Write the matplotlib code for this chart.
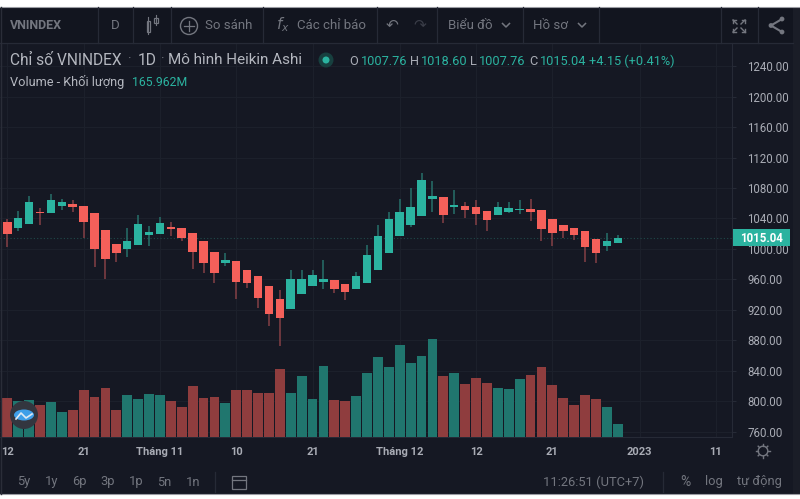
import numpy as np
import matplotlib
matplotlib.use("Agg")
import matplotlib.pyplot as plt
from matplotlib.patches import Rectangle, Circle, Ellipse

plt.rcParams['font.family'] = ['Roboto', 'DejaVu Sans']

# heikin ashi candles
opens = [1035,1027,1033,1049,1047,1056,1059,1057,1047,1025,1006,1000,1005,1019,1020,1029,1028,1021,1010,996,
         981,984,972,964,951,934,921,941,951,957,959,954,948,955,973,995,1017,1032,1043,1066,
         1068,1055.5,1057,1055,1050,1044,1049,1051,1052.5,1050.5,1039,1031,1028,1024,1013,1004,1007.76]
highs = [1039,1050,1069,1054,1072,1066,1064,1057,1047,1025,1006,1028,1044,1030,1042,1035,1028,1021,1010,996,
         995,984,972,964,951,946,972,972,973,985,959,954,970,1005,1031,1048,1065,1080,1100,1089,
         1068,1077,1061,1064,1050,1062,1062,1064,1066,1050.5,1039,1032,1028,1024,1013,1021,1018.60]
lows = [1002,1024,1033,1032,1047,1051,1048,1014,977,961,983,990,1005,1004,1020,1017,1010,974,969,955,
        978,934,949,922,899,873,921,941,951,947,942,933,948,955,973,995,1017,1029,1043,1048,
        1034,1045.5,1040,1031,1024,1044,1047,1045.5,1037,1010,1004,1014,1012,983,981,998,1007.76]
closes = [1020,1040,1062,1047,1064,1061,1055,1036,1000,987,995,1010,1033,1022,1034,1026,1015,996,981,969,
          986,957,955,936,915,909,961,961,965.5,960,947,943,964,992.5,1017,1039,1049,1055,1091,1069,
          1045,1058,1051,1046,1038,1055,1054,1053,1048,1026,1021,1024,1019,1002,995,1011,1015.04]
volumes = [490,456,465,407,436,320,336,589,506,618,336,527,481,535,531,452,378,643,494,506,
           432,585,589,552,548,855,548,759,481,892,461,456,519,797,1004,872,1150,930,1013,1228,
           764,797,664,743,672,610,606,722,776,872,647,486,398,523,473,374,166]

price_ticks = [1240,1200,1160,1120,1080,1040,1000,960,920,880,840,800,760]
date_pos = [0,7,14,21,28,36,43,50,58,65]
date_labels = ['12','21','Tháng 11','10','21','Tháng 12','12','21','2023','11']
last_price = 1015.04

BG = '#151823'
BG2 = '#12151f'
LINE = '#262a36'
TXT = '#a9acb5'
DIM = '#73767f'
GREEN = '#2bb3a0'
RED = '#f5605a'
GREEN_W = '#26706a'
RED_W = '#854046'
GREEN_V = '#20766e'
RED_V = '#8f3d3e'
W, H = 800, 499

fig = plt.figure(figsize=(8, 4.99), dpi=100, facecolor='white')

def px_axes(x0, y0, x1, y1):
  return fig.add_axes([x0/W, 1-y1/H, (x1-x0)/W, (y1-y0)/H])

# whole screenshot panel, in pixels
ui = px_axes(0, 0, W, H)
ui.set_xlim(0, W)
ui.set_ylim(H, 0)
ui.axis('off')
ui.add_patch(Rectangle((0, 7), W, 487, color='#1a1d27', lw=0))
ui.add_patch(Rectangle((0, 7), 793, 487, color=BG, lw=0))
ui.add_patch(Rectangle((0, 7), 793, 36, color=BG2, lw=0))
ui.plot([0, W], [6.5, 6.5], color='#9a9ca3', lw=0.8)
ui.plot([0, W], [494.3, 494.3], color='#9a9ca3', lw=0.8)

# price pane, twin made first because twinx resets the tick side
ax = px_axes(0, 43, 732, 437.3)
vol = ax.twinx()
ax.set_facecolor(BG)
ax.set_xlim(-0.67, 66.48)
ax.set_ylim(753, 1270.2)
for s in ax.spines.values():
  s.set_visible(False)
ax.spines['right'].set_visible(True)
ax.spines['right'].set_color(LINE)
ax.spines['bottom'].set_visible(True)
ax.spines['bottom'].set_color(LINE)
ax.set_yticks(price_ticks)
ax.set_yticklabels(['%.2f' % p for p in price_ticks])
ax.yaxis.tick_right()
ax.set_xticks(date_pos)
ax.set_xticklabels(date_labels)
ax.tick_params(axis='y', length=3, color=LINE, labelcolor=TXT, labelsize=8.3, pad=8)
ax.tick_params(axis='x', length=0, labelcolor=TXT, labelsize=8, pad=7)
for t in ax.get_xticklabels():
  t.set_fontweight('bold')
ax.grid(True, color='#1c202b', lw=0.8)
ax.set_axisbelow(True)

# volume sits on its own scale at the bottom of the pane
vol.set_ylim(0, 4909)
vol.axis('off')
x = np.arange(len(opens))
up = np.array(closes) >= np.array(opens)
vol.bar(x, volumes, width=0.9, color=[GREEN_V if u else RED_V for u in up], lw=0)

for i in x:
  ax.plot([i, i], [lows[i], highs[i]], color=GREEN_W if up[i] else RED_W, lw=1.1, zorder=3, solid_capstyle='butt')
ax.bar(x, np.abs(np.array(closes)-np.array(opens)), bottom=np.minimum(opens, closes), width=0.78,
       color=[GREEN if u else RED for u in up], lw=0, zorder=4)
ax.axhline(last_price, color='#1f4a4a', lw=0.8, ls=(0, (1, 2)), zorder=2)
ax.set_zorder(vol.get_zorder()+1)
ax.patch.set_visible(False)
vol.set_zorder(1)

# overlay for the chrome
top = px_axes(0, 0, W, H)
top.set_xlim(0, W)
top.set_ylim(H, 0)
top.axis('off')
top.set_zorder(10)

def label(x, y, s, c=TXT, size=9, **kw):
  top.text(x, y, s, color=c, fontsize=size, va='center', **kw)

for sx in [98, 133, 171, 263, 377, 437, 523, 599, 721, 758]:
  top.plot([sx, sx], [7, 43], color=LINE, lw=0.9)
top.plot([0, 793], [43, 43], color=LINE, lw=0.9)
top.plot([1, 1], [7, 494], color='#2a2d38', lw=1)

label(10, 25, 'VNINDEX', DIM, 9, fontweight='bold')
label(111, 25, 'D', DIM, 9.5)
label(205, 25, 'So sánh', DIM, 9.5)
label(297, 25, 'Các chỉ báo', DIM, 9.5)
label(276, 25, '$f_x$', DIM, 11)
label(448, 25, 'Biểu đồ', DIM, 9.5)
label(533, 25, 'Hồ sơ', DIM, 9.5)
label(386, 25, '↶', DIM, 11, family=['DejaVu Sans'])
label(413, 25, '↷', '#3a3d48', 11, family=['DejaVu Sans'])

# candle icon, plus circle, chevrons, expand, share
top.add_patch(Rectangle((146.5, 21), 3.5, 11, fill=False, ec=DIM, lw=0.9))
top.plot([148.2, 148.2], [17, 34], color=DIM, lw=0.8)
top.add_patch(Rectangle((154, 18), 3.5, 5, fill=False, ec=DIM, lw=0.9))
top.plot([155.7, 155.7], [15, 25], color=DIM, lw=0.8)
top.add_patch(Circle((189, 26), 8.5, fill=False, ec=DIM, lw=1))
top.plot([184, 194], [26, 26], color=DIM, lw=0.9)
top.plot([189, 189], [21, 31], color=DIM, lw=0.9)
for cx in [506, 582]:
  top.plot([cx-3.5, cx, cx+3.5], [23.5, 27, 23.5], color=DIM, lw=1.1)
for dx, dy in [(-1, -1), (1, -1), (-1, 1), (1, 1)]:
  cx, cy = 739+dx*6, 26+dy*6
  top.plot([cx, cx-dx*4], [cy, cy-dy*4], color=DIM, lw=1)
  top.plot([cx, cx-dx*3], [cy, cy], color=DIM, lw=1)
  top.plot([cx, cx], [cy, cy-dy*3], color=DIM, lw=1)
top.plot([782, 771, 782], [19, 25.5, 32], color=DIM, lw=1.5)
for cx, cy in [(782, 19), (771, 25.5), (782, 32)]:
  top.add_patch(Circle((cx, cy), 2.4, color=DIM, lw=0))

# legend lines
label(10, 60, 'Chỉ số VNINDEX', '#b4b7bf', 11.2)
label(128, 60, '·', DIM, 10)
label(138, 60, '1D', '#b4b7bf', 11.2)
label(161, 60, '·', DIM, 10)
label(168, 60, 'Mô hình Heikin Ashi', '#b4b7bf', 11)
top.add_patch(Circle((326, 60), 7.5, color='#17403f', lw=0))
top.add_patch(Circle((326, 60), 3.5, color=GREEN, lw=0))
label(349, 61, 'O', TXT, 9.2)
label(361, 61, '1007.76', GREEN, 9.2)
label(410, 61, 'H', TXT, 9.2)
label(421, 61, '1018.60', GREEN, 9.2)
label(470, 61, 'L', TXT, 9.2)
label(479, 61, '1007.76', GREEN, 9.2)
label(529, 61, 'C', TXT, 9.2)
label(540, 61, '1015.04', GREEN, 9.2)
label(589, 61, '+4.15 (+0.41%)', GREEN, 9.2)
label(10, 82, 'Volume - Khối lượng', '#b4b7bf', 9.2)
label(132, 82, '165.962M', GREEN, 8.8)

# last price tag
top.add_patch(Rectangle((733, 229), 57, 17, color=GREEN, lw=0))
label(761.5, 238, '%.2f' % last_price, 'white', 8.3, ha='center', fontweight='bold')

# settings gear
top.add_patch(Circle((763, 451), 4.8, fill=False, ec=DIM, lw=1))
for a in np.arange(0, 360, 45):
  r = np.radians(a)
  top.plot([763+4.8*np.cos(r), 763+6.8*np.cos(r)], [451+4.8*np.sin(r), 451+6.8*np.sin(r)], color=DIM, lw=1)

# logo on the volume bars
top.add_patch(Circle((24, 415), 14, color='#33363f', lw=0))
top.add_patch(Ellipse((24, 415), 20, 11, color='#3f9fe8', lw=0))
top.plot([16, 21, 26, 32], [419, 413, 418, 414], color='#dfe9f2', lw=1.2)

# bottom bar
for bx, s in zip([17, 45, 72, 100, 129, 157, 186], ['5y', '1y', '6p', '3p', '1p', '5n', '1n']):
  label(bx, 482, s, DIM, 9.3)
top.plot([215, 215], [472, 492], color=LINE, lw=0.9)
top.add_patch(Rectangle((232, 476), 14, 13, fill=False, ec=DIM, lw=0.9))
top.plot([232, 246], [480, 480], color=DIM, lw=0.9)
label(543, 482, '11:26:51 (UTC+7)', DIM, 9.3)
top.plot([663, 663], [472, 492], color=LINE, lw=0.9)
label(680, 482, '%', DIM, 10)
label(705, 482, 'log', DIM, 9.3)
label(737, 482, 'tự động', DIM, 9.3)

fig.savefig('out.png', dpi=100, facecolor='white')
